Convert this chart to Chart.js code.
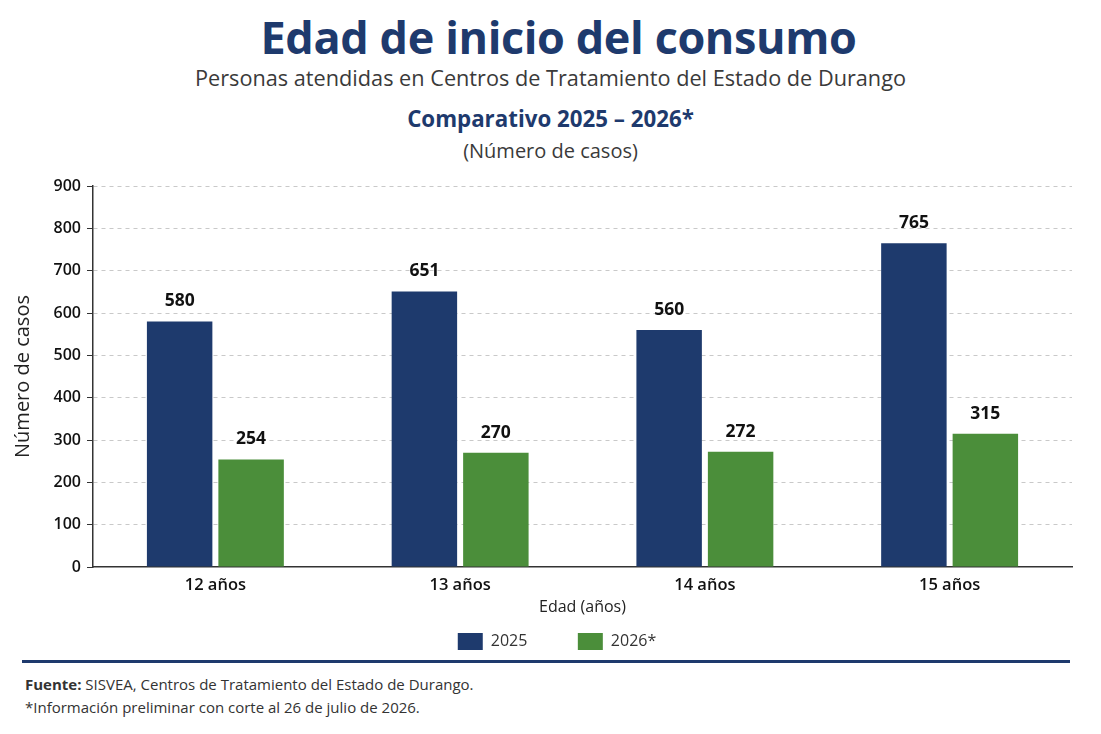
<!DOCTYPE html>
<html lang="es">
<head>
<meta charset="utf-8">
<title>Edad de inicio del consumo</title>
<script src="https://cdn.jsdelivr.net/npm/chart.js@4.4.1/dist/chart.umd.min.js"></script>
<style>
  html, body { margin: 0; padding: 0; background: #fff; }
  body { width: 1101px; height: 734px; position: relative; overflow: hidden; font-family: "Open Sans", sans-serif; }
  .txt { position: absolute; left: 0; width: 1101px; text-align: center; white-space: nowrap; line-height: 1; }
  #titulo { top: 14px; left: 8px; font-size: 45px; font-weight: 700; color: #1e3a6d; letter-spacing: -0.4px; }
  #subtitulo { top: 67px; font-size: 21.7px; color: #3a3a3a; }
  #comparativo { top: 108px; font-size: 22.3px; font-weight: 700; color: #1e3a6d; }
  #unidad { top: 141px; font-size: 20px; color: #3a3a3a; }
  #grafica { position: absolute; left: 0; top: 170px; }
  #regla { position: absolute; left: 22px; width: 1048px; top: 660px; height: 3px; background: #1e3a6d; }
  .nota { position: absolute; left: 25px; font-size: 15px; color: #333; white-space: nowrap; line-height: 1; }
</style>
</head>
<body>
<div class="txt" id="titulo">Edad de inicio del consumo</div>
<div class="txt" id="subtitulo">Personas atendidas en Centros de Tratamiento del Estado de Durango</div>
<div class="txt" id="comparativo">Comparativo 2025 – 2026*</div>
<div class="txt" id="unidad">(Número de casos)</div>
<canvas id="grafica" width="1101" height="490"></canvas>
<div id="regla"></div>
<div class="nota" style="top:677px"><b>Fuente:</b> SISVEA, Centros de Tratamiento del Estado de Durango.</div>
<div class="nota" style="top:700px">*Información preliminar con corte al 26 de julio de 2026.</div>

<script>
// datos
const categorias = ['12 años', '13 años', '14 años', '15 años'];
const casos2025 = [580, 651, 560, 765];
const casos2026 = [254, 270, 272, 315];
const ejeYMax = 900;
const ejeYPaso = 100;

const azul = '#1e3a6d';
const verde = '#4b8e3a';

// numeros encima de cada barra
const etiquetasValor = {
    id: 'etiquetasValor',
    afterDatasetsDraw(chart) {
        const ctx = chart.ctx;
        ctx.save();
        ctx.font = '700 17.5px "Open Sans"';
        ctx.fillStyle = '#111';
        ctx.textAlign = 'center';
        ctx.textBaseline = 'middle';
        chart.data.datasets.forEach(function (ds, i) {
            chart.getDatasetMeta(i).data.forEach(function (barra, j) {
                ctx.fillText(ds.data[j], barra.x, barra.y - 20);
            });
        });
        ctx.restore();
    }
};

Chart.defaults.font.family = '"Open Sans", sans-serif';

var ctx = document.getElementById('grafica').getContext('2d');
var chart = new Chart(ctx, {
    type: 'bar',
    data: {
        labels: categorias,
        datasets: [
            { label: '2025', data: casos2025, backgroundColor: azul, yAxisID: 'y' },
            { label: '2026*', data: casos2026, backgroundColor: verde, yAxisID: 'y' }
        ]
    },
    options: {
        responsive: false,
        animation: false,
        layout: { padding: { top: 16, left: 13, right: 0, bottom: 0 } },
        datasets: { bar: { categoryPercentage: 0.584, barPercentage: 0.916 } },
        plugins: {
            legend: {
                position: 'bottom',
                labels: {
                    boxWidth: 25,
                    boxHeight: 17,
                    padding: 38,
                    color: '#333',
                    font: { size: 16 },
                    // un poco mas de aire entre los dos elementos
                    generateLabels: function (chart) {
                        const items = Chart.defaults.plugins.legend.labels.generateLabels(chart);
                        items.forEach(function (it, i) {
                            if (i < items.length - 1) it.text += '   ';
                        });
                        return items;
                    }
                }
            },
            tooltip: { enabled: false }
        },
        scales: {
            x: {
                grid: { display: true, drawOnChartArea: false, drawTicks: false },
                border: { color: '#333', width: 1.5 },
                ticks: { padding: 8, color: '#111', font: { size: 16.5, weight: '600' } },
                title: {
                    display: true,
                    text: 'Edad (años)',
                    color: '#222',
                    font: { size: 16 },
                    padding: { top: -5.4, bottom: -21.6 }
                }
            },
            y: {
                min: 0,
                max: ejeYMax,
                ticks: { stepSize: ejeYPaso, padding: 6, color: '#111', font: { size: 16, weight: '600' } },
                grid: {
                    color: function (c) { return c.tick && c.tick.value === 0 ? 'rgba(0,0,0,0)' : '#c9c9c9'; },
                    tickColor: '#333',
                    tickLength: 6,
                    tickBorderDash: []
                },
                border: { color: '#333', width: 1.5, dash: [4, 4] },
                title: {
                    display: true,
                    text: 'Número de casos',
                    color: '#222',
                    font: { size: 20 },
                    padding: { top: -2 }
                },
                afterFit: function (scale) { scale.width = 80; }
            },
            // eje vacio solo para dejar margen a la derecha
            margen: {
                position: 'right',
                grid: { display: false },
                ticks: { display: false },
                border: { display: false },
                afterFit: function (scale) { scale.width = 29; }
            }
        }
    },
    plugins: [etiquetasValor]
});
</script>
</body>
</html>
